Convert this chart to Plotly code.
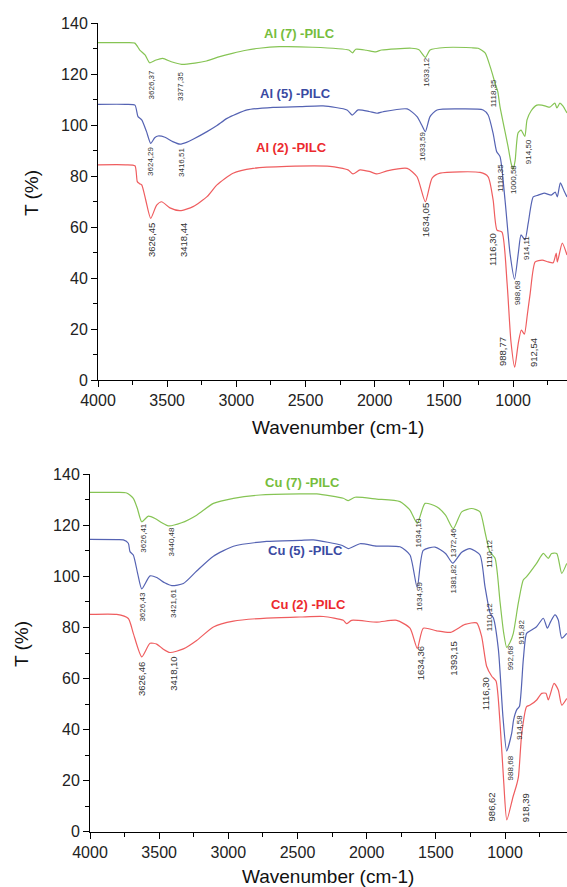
import plotly.graph_objects as go

# ---------------- data (wavenumber cm-1, transmittance %) ----------------
al7_wn = [4000, 3800, 3734, 3698, 3660, 3626, 3580, 3532, 3470, 3396, 3300, 3216, 3120, 3029, 2930, 2834, 2690, 2450,
          2187, 2160, 2137, 2060, 1993, 1950, 1734, 1680, 1633, 1600, 1490, 1300, 1252, 1202, 1158, 1130, 1110, 1094,
          1036, 1014, 1000, 985, 964, 942, 915, 899, 870, 828, 792, 760, 734, 698, 683, 661, 640, 610]
al7_t = [132.3, 132.3, 132.1, 129.4, 127.5, 124.4, 125.5, 126.1, 124.8, 123.8, 124.3, 125.1, 126.8, 128.1, 129.3, 130.1,
         130.7, 130.5, 129.4, 128.3, 129.7, 129.3, 128.7, 129.4, 130.1, 129.5, 126.5, 129.4, 130.4, 130.3, 130.1, 128.3,
         121.6, 116.4, 113.0, 107.1, 91.5, 85.0, 82.6, 86.0, 96.9, 98.0, 95.5, 102.0, 105.5, 107.8, 107.8, 107.3, 107.0,
         108.6, 106.7, 108.6, 107.5, 104.7]

al5_wn = [4000, 3800, 3733, 3711, 3684, 3650, 3619, 3590, 3566, 3516, 3460, 3407, 3360, 3313, 3212, 3140, 3067, 2922,
          2734, 2540, 2373, 2200, 2163, 2120, 2040, 1983, 1939, 1765, 1694, 1660, 1634, 1600, 1549, 1361, 1216, 1180,
          1144, 1118, 1094, 1058, 1022, 989, 962, 942, 914, 890, 854, 818, 775, 724, 695, 680, 658, 630, 610]
al5_t = [108.1, 108.1, 107.8, 103.3, 102.0, 97.5, 92.8, 95.0, 95.7, 95.2, 93.5, 92.5, 93.2, 94.4, 97.4, 99.8, 102.6,
         105.9, 106.9, 107.2, 107.5, 105.9, 103.9, 105.9, 105.3, 104.6, 105.2, 106.3, 103.3, 100.0, 97.4, 103.3, 105.9,
         106.3, 105.9, 103.9, 96.7, 89.5, 87.6, 70.6, 49.7, 39.5, 49.7, 56.9, 54.9, 61.6, 71.8, 72.5, 73.3, 72.5, 73.7,
         71.8, 77.3, 74.0, 71.8]

al2_wn = [4000, 3800, 3733, 3716, 3700, 3684, 3655, 3619, 3576, 3540, 3480, 3407, 3313, 3212, 3140, 3024, 2879, 2634,
          2323, 2193, 2157, 2106, 2040, 1983, 1911, 1765, 1694, 1634, 1585, 1527, 1238, 1180, 1144, 1116, 1080, 1043,
          1015, 988, 962, 940, 918, 897, 876, 840, 789, 746, 710, 688, 680, 644, 610]
al2_t = [84.4, 84.4, 84.0, 77.8, 77.0, 76.5, 70.6, 63.4, 68.6, 69.9, 67.5, 66.4, 68.0, 71.9, 76.5, 81.1, 83.0, 83.8,
         83.8, 82.4, 80.8, 82.4, 81.8, 80.8, 82.0, 83.0, 79.7, 69.9, 79.2, 81.1, 81.4, 79.7, 70.6, 58.8, 58.0, 37.9,
         15.0, 5.0, 14.5, 19.6, 18.0, 25.5, 34.0, 46.3, 47.0, 46.3, 46.0, 49.8, 46.3, 53.7, 49.0]

cu7_wn = [4000, 3800, 3735, 3687, 3658, 3626, 3578, 3530, 3480, 3434, 3338, 3229, 3108, 2963, 2771, 2482, 2361, 2169,
          2133, 2084, 1927, 1759, 1687, 1634, 1578, 1494, 1430, 1374, 1313, 1241, 1181, 1145, 1110, 1072, 1036, 1010,
          988, 965, 940, 904, 868, 844, 772, 723, 687, 663, 626, 590, 554]
cu7_t = [132.9, 132.9, 132.7, 130.6, 126.7, 121.4, 123.6, 122.7, 121.0, 119.8, 121.0, 124.0, 128.6, 130.6, 131.9, 132.3,
         132.3, 130.6, 129.7, 131.0, 130.3, 129.3, 126.0, 120.8, 128.6, 127.3, 124.0, 118.7, 125.3, 126.6, 125.3, 117.5,
         109.7, 107.1, 90.0, 78.0, 72.2, 74.0, 77.7, 89.5, 98.6, 99.9, 105.1, 109.0, 107.1, 109.0, 109.0, 101.2, 105.1]

cu5_wn = [4000, 3800, 3759, 3723, 3711, 3687, 3655, 3626, 3566, 3518, 3460, 3409, 3325, 3229, 3108, 2963, 2723, 2482,
          2386, 2181, 2133, 2048, 1927, 1759, 1687, 1635, 1591, 1506, 1430, 1378, 1313, 1253, 1181, 1145, 1108, 1084,
          1048, 1015, 988, 952, 938, 914, 896, 868, 844, 808, 772, 723, 694, 670, 639, 615, 590, 554]
cu5_t = [114.5, 114.4, 114.3, 113.0, 109.7, 108.4, 101.0, 95.1, 100.2, 99.6, 97.5, 96.4, 97.2, 102.1, 107.9, 111.8,
         113.7, 114.1, 114.3, 112.2, 110.9, 112.8, 111.9, 111.6, 108.4, 95.6, 110.2, 111.5, 109.0, 105.2, 109.5, 110.9,
         108.4, 96.1, 85.7, 83.7, 71.4, 45.0, 31.6, 38.5, 43.8, 47.9, 49.0, 67.3, 77.7, 79.0, 80.3, 83.6, 79.7, 82.3,
         84.9, 82.9, 75.8, 77.7]

cu2_wn = [4000, 3807, 3723, 3687, 3626, 3566, 3518, 3470, 3422, 3325, 3229, 3108, 2963, 2723, 2482, 2313, 2169, 2145,
          2109, 1927, 1783, 1687, 1634, 1591, 1494, 1393, 1289, 1205, 1169, 1133, 1096, 1065, 1036, 1010, 987, 942, 920,
          903, 879, 844, 819, 771, 735, 704, 687, 646, 615, 590, 554]
cu2_t = [85.1, 85.1, 83.5, 77.7, 68.5, 73.8, 73.5, 71.5, 70.2, 71.6, 74.9, 80.2, 82.5, 83.7, 84.1, 84.3, 82.8, 81.5,
         82.8, 82.1, 82.8, 79.7, 71.8, 79.7, 78.7, 78.1, 81.2, 81.8, 76.5, 64.8, 60.9, 59.0, 42.5, 20.0, 4.6, 13.7, 17.6,
         21.5, 38.5, 49.0, 49.6, 51.6, 54.2, 54.2, 51.6, 58.1, 55.5, 49.6, 52.2]

series_names_top = ["Al (7) -PILC", "Al (5) -PILC", "Al (2) -PILC"]
series_names_bot = ["Cu (7) -PILC", "Cu (5) -PILC", "Cu (2) -PILC"]
name_wn_top = [2547, 2570, 2605]
name_t_top = [135.7, 112.2, 91.0]
name_wn_bot = [2467, 2442, 2417]
name_t_bot = [136.7, 110.1, 89.1]

# peak labels: text, wavenumber, T, series index (0 = 7, 1 = 5, 2 = 2)
peaks_top_text = ["3626,37", "3377,35", "3624,29", "3416,51", "3626,45", "3418,44", "1633,12", "1118,35", "1633,59",
                  "1118,35", "1634,05", "1116,30", "1000,58", "914,50", "988,68", "914,11", "988,77", "912,54"]
peaks_top_wn = [3617, 3407, 3617, 3400, 3617, 3385, 1623, 1144, 1650, 1094, 1636, 1144, 1000, 891, 971, 898, 1072, 848]
peaks_top_t = [115.9, 114.9, 85.9, 85.1, 54.9, 54.9, 120.8, 112.5, 91.4, 79.2, 62.7, 51.0, 78.4, 89.4, 34.1, 51.8,
               11.0, 10.6]
peaks_top_grp = [0, 0, 1, 1, 2, 2, 0, 0, 1, 1, 2, 2, 0, 0, 1, 1, 2, 2]

peaks_bot_text = ["3626,41", "3440,48", "3626,43", "3421,61", "3626,46", "3418,10", "1634,10", "1372,46", "1110,12",
                  "1634,99", "1381,82", "1110,12", "992,68", "915,82", "1634,36", "1393,15", "1116,30", "988,68",
                  "914,58", "986,62", "918,39"]
peaks_bot_wn = [3615, 3409, 3622, 3402, 3626, 3398, 1627, 1374, 1113, 1614, 1374, 1113, 964, 879, 1614, 1374, 1139,
                964, 892, 1096, 855]
peaks_bot_t = [114.9, 113.6, 87.9, 89.5, 59.7, 62.0, 116.9, 113.0, 109.0, 92.0, 98.9, 84.2, 67.9, 78.3, 66.0, 67.9,
               54.2, 24.8, 41.1, 9.8, 9.2]
peaks_bot_grp = [0, 0, 1, 1, 2, 2, 0, 0, 0, 1, 1, 1, 0, 0, 2, 2, 2, 1, 1, 2, 2]

x_ticks = [4000, 3500, 3000, 2500, 2000, 1500, 1000]
y_ticks = [0, 20, 40, 60, 80, 100, 120, 140]

# ---------------- styling ----------------
W, H = 567, 887
line_colors = ["#86c454", "#5563b3", "#ef5d5f"]
text_colors = ["#76bd3c", "#3a4aa2", "#ec2a2e"]
FONT = "Liberation Sans, Arial, sans-serif"

fig = go.Figure()
for wn, t, c in [(al7_wn, al7_t, line_colors[0]), (al5_wn, al5_t, line_colors[1]), (al2_wn, al2_t, line_colors[2])]:
    fig.add_trace(go.Scatter(x=wn, y=t, mode="lines", line=dict(color=c, width=1.2, shape="spline", smoothing=0.6),
                             xaxis="x", yaxis="y", showlegend=False, hoverinfo="x+y"))
for wn, t, c in [(cu7_wn, cu7_t, line_colors[0]), (cu5_wn, cu5_t, line_colors[1]), (cu2_wn, cu2_t, line_colors[2])]:
    fig.add_trace(go.Scatter(x=wn, y=t, mode="lines", line=dict(color=c, width=1.2, shape="spline", smoothing=0.6),
                             xaxis="x2", yaxis="y2", showlegend=False, hoverinfo="x+y"))


def px_to_x(px):
    return px / W


def py_to_y(py):
    return 1 - py / H


axis_common = dict(showline=True, linecolor="black", linewidth=1, ticks="outside", ticklen=6, tickwidth=1,
                   tickcolor="black", showgrid=False, zeroline=False, mirror=False,
                   tickfont=dict(family=FONT, size=16, color="#222"), automargin=False)

fig.update_layout(
    width=W, height=H, margin=dict(l=0, r=0, t=0, b=0),
    paper_bgcolor="white", plot_bgcolor="white", template="none",
    xaxis=dict(**axis_common, domain=[px_to_x(98), 1.0], range=[4000, 610], tickvals=x_ticks,
               minor=dict(ticks="outside", ticklen=4, tickcolor="black", dtick=250, tick0=0, showgrid=False),
               anchor="y"),
    yaxis=dict(**axis_common, domain=[py_to_y(380), py_to_y(23)], range=[0, 140], tickvals=y_ticks,
               minor=dict(ticks="outside", ticklen=4, tickcolor="black", dtick=10, tick0=0, showgrid=False),
               anchor="x"),
    xaxis2=dict(**axis_common, domain=[px_to_x(90), 1.0], range=[4000, 552], tickvals=x_ticks,
                minor=dict(ticks="outside", ticklen=4, tickcolor="black", dtick=250, tick0=0, showgrid=False),
                anchor="y2"),
    yaxis2=dict(**axis_common, domain=[py_to_y(831.7), py_to_y(474.3)], range=[0, 140], tickvals=y_ticks,
                minor=dict(ticks="outside", ticklen=4, tickcolor="black", dtick=10, tick0=0, showgrid=False),
                anchor="x2"),
)

ann = []
# axis titles
for cx, cy in [(338, 427), (328, 876.7)]:
    ann.append(dict(text="Wavenumber (cm-1)", xref="paper", yref="paper", x=px_to_x(cx), y=py_to_y(cy),
                    showarrow=False, xanchor="center", yanchor="middle", font=dict(family=FONT, size=19, color="#111")))
for cx, cy in [(32, 193), (21, 644)]:
    ann.append(dict(text="T (%)", xref="paper", yref="paper", x=px_to_x(cx), y=py_to_y(cy), textangle=-90,
                    showarrow=False, xanchor="center", yanchor="middle", font=dict(family=FONT, size=19, color="#111")))

# series names
for names, wns, ts, xr, yr in [(series_names_top, name_wn_top, name_t_top, "x", "y"),
                               (series_names_bot, name_wn_bot, name_t_bot, "x2", "y2")]:
    for i, (n, w, t) in enumerate(zip(names, wns, ts)):
        ann.append(dict(text="<b>" + n + "</b>", x=w, y=t, xref=xr, yref=yr, showarrow=False,
                        xanchor="center", yanchor="middle", font=dict(family=FONT, size=13, color=text_colors[i])))

# peak labels
for texts, wns, ts, grps, xr, yr in [(peaks_top_text, peaks_top_wn, peaks_top_t, peaks_top_grp, "x", "y"),
                                     (peaks_bot_text, peaks_bot_wn, peaks_bot_t, peaks_bot_grp, "x2", "y2")]:
    for s, w, t, g in zip(texts, wns, ts, grps):
        ann.append(dict(text=s, x=w, y=t, xref=xr, yref=yr, showarrow=False, textangle=-90,
                        xanchor="center", yanchor="middle",
                        font=dict(family=FONT, size=9.5 if g == 2 else 8, color="#333")))

fig.update_layout(annotations=ann)

fig.write_html("out.html", config={"displayModeBar": False},
               post_script="document.body.style.margin='0';document.body.style.overflow='hidden';")
